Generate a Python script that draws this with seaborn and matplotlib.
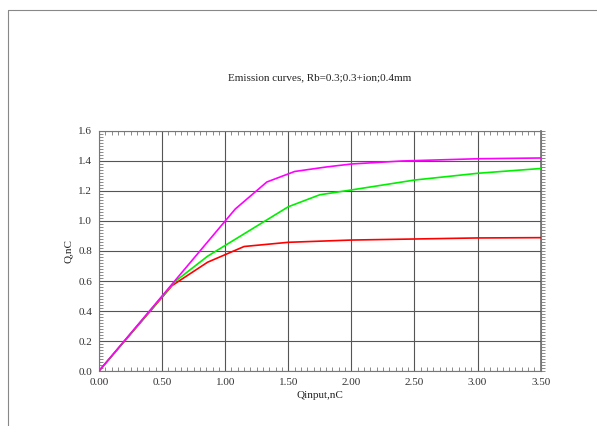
import numpy as np
import pandas as pd
import matplotlib
matplotlib.use("Agg")
import matplotlib.pyplot as plt
from matplotlib.ticker import MultipleLocator, FormatStrFormatter
import seaborn as sns

# Emission curves
qin_magenta = [0.0, 1.08, 1.33, 1.55, 1.80, 2.00, 2.40, 3.00, 3.50]
q_magenta = [0.0, 1.08, 1.26, 1.33, 1.36, 1.38, 1.40, 1.415, 1.42]

qin_green = [0.0, 0.60, 0.86, 1.50, 1.75, 2.00, 2.50, 3.00, 3.50]
q_green = [0.0, 0.595, 0.765, 1.095, 1.175, 1.207, 1.273, 1.318, 1.35]

qin_red = [0.0, 0.58, 0.86, 1.15, 1.50, 2.00, 2.50, 3.00, 3.50]
q_red = [0.0, 0.57, 0.725, 0.83, 0.858, 0.873, 0.880, 0.887, 0.889]

title = "Emission curves, Rb=0.3;0.3+ion;0.4mm"
xlabel = "Qinput,nC"
ylabel = "Q,nC"

frames = []
for name, xs, ys in [("red", qin_red, q_red), ("green", qin_green, q_green),
                     ("magenta", qin_magenta, q_magenta)]:
    frames.append(pd.DataFrame({"qin": xs, "q": ys, "curve": name}))
df = pd.concat(frames, ignore_index=True)

sns.set_theme(style="white")
plt.rcParams["font.family"] = ["Liberation Serif", "DejaVu Serif"]

fig = plt.figure(figsize=(5.97, 4.26), dpi=100)
ax = fig.add_axes([0.1658, 0.1291, 0.9057 - 0.1658, 0.6925 - 0.1291])

palette = {"red": "#ff0000", "green": "#00f000", "magenta": "#ff00ff"}
sns.lineplot(data=df, x="qin", y="q", hue="curve", palette=palette,
             sort=False, legend=False, linewidth=1.2, ax=ax, zorder=3)

ax.set_xlim(0, 3.5)
ax.set_ylim(0, 1.6)
ax.xaxis.set_major_locator(MultipleLocator(0.5))
ax.xaxis.set_minor_locator(MultipleLocator(0.05))
ax.yaxis.set_major_locator(MultipleLocator(0.2))
ax.yaxis.set_minor_locator(MultipleLocator(0.02))
ax.xaxis.set_major_formatter(FormatStrFormatter("%.2f"))
ax.yaxis.set_major_formatter(FormatStrFormatter("%.1f"))

ax.grid(True, which="major", color="#555555", linewidth=0.8)
for s in ax.spines.values():
    s.set_color("#777777")
    s.set_linewidth(0.8)

ax.tick_params(which="major", direction="out", length=3, width=0.8, color="#777777",
               labelsize=8, labelcolor="#333333", pad=2)
ax.tick_params(which="minor", direction="in", length=3, width=0.6, color="#777777",
               top=True, bottom=True, left=True, right=False)
ax.tick_params(which="major", top=False, right=False)

# right side ticks point outward
sec = ax.secondary_yaxis("right")
sec.yaxis.set_major_locator(MultipleLocator(0.2))
sec.yaxis.set_minor_locator(MultipleLocator(0.02))
sec.tick_params(which="both", direction="out", length=3, width=0.6, color="#777777",
                labelright=False)
sec.spines["right"].set_color("#777777")

ax.set_xlabel(xlabel, fontsize=8, color="#222222", labelpad=3)
ax.set_ylabel(ylabel, fontsize=8, color="#222222", labelpad=4)
fig.text(0.535, 0.817, title, ha="center", va="center", fontsize=8, color="#222222")

# outer frame lines (top and left)
fig.add_artist(plt.Line2D([8 / 597, 1], [1 - 10 / 426, 1 - 10 / 426], color="#888888", linewidth=0.8))
fig.add_artist(plt.Line2D([8 / 597, 8 / 597], [0, 1 - 10 / 426], color="#888888", linewidth=0.8))

fig.savefig("out.png", dpi=100, facecolor="white")
